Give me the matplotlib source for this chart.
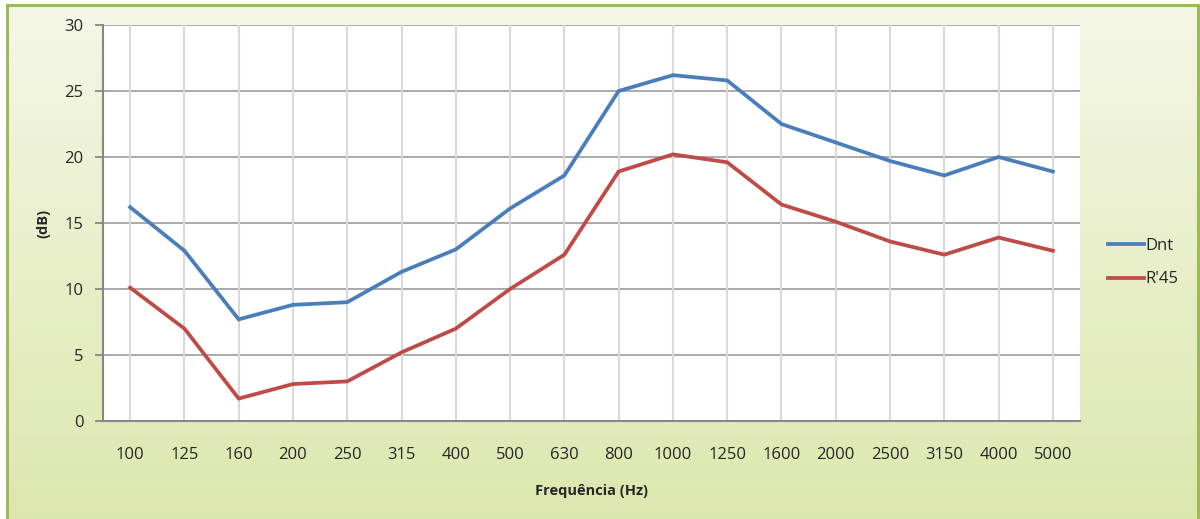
import numpy as np
import matplotlib
matplotlib.use("Agg")
import matplotlib.pyplot as plt
from matplotlib.patches import Rectangle
from matplotlib.colors import LinearSegmentedColormap

categories = ["100", "125", "160", "200", "250", "315", "400", "500", "630",
              "800", "1000", "1250", "1600", "2000", "2500", "3150", "4000", "5000"]
dnt = [16.2, 12.9, 7.7, 8.8, 9.0, 11.3, 13.0, 16.1, 18.6,
       25.0, 26.2, 25.8, 22.5, 21.1, 19.7, 18.6, 20.0, 18.9]
r45 = [10.1, 7.0, 1.7, 2.8, 3.0, 5.2, 7.0, 10.0, 12.6,
       18.9, 20.2, 19.6, 16.4, 15.1, 13.6, 12.6, 13.9, 12.9]
yticks = [0, 5, 10, 15, 20, 25, 30]

plt.rcParams['font.family'] = ['Open Sans', 'DejaVu Sans']

W, H = 1200, 519
fig = plt.figure(figsize=(W / 100, H / 100), dpi=100)
fig.patch.set_facecolor("white")

# gradient background frame (extends below the image bottom)
bg = fig.add_axes([7 / W, -10 / H, (1198 - 7) / W, (H + 10 - 5) / H])
bg.set_axis_off()
cmap = LinearSegmentedColormap.from_list("g", ["#f4f7e6", "#dce7ad"])
grad = np.linspace(0, 1, 256).reshape(-1, 1)
bg.imshow(grad, aspect="auto", cmap=cmap, extent=[0, 1, 0, 1], origin="upper")
bg.set_xlim(0, 1)
bg.set_ylim(0, 1)
bg.add_patch(Rectangle((0, 0), 1, 1.0, fill=False, edgecolor="#9bbb59",
                       linewidth=2.2, transform=bg.transAxes, clip_on=False))

ax = fig.add_axes([103 / W, (H - 421) / H, (1080 - 103) / W, (421 - 25) / H])
ax.set_facecolor("white")
x = np.arange(len(categories))
ax.plot(x, dnt, color="#4a7ebb", lw=2.7, label="Dnt", solid_joinstyle="miter", zorder=3)
ax.plot(x, r45, color="#be4b48", lw=2.7, label="R'45", solid_joinstyle="miter", zorder=3)

ax.set_xlim(-0.5, len(categories) - 0.5)
ax.set_ylim(0, 30)
ax.set_yticks(yticks)
ax.set_xticks(x)
ax.set_xticklabels(categories)
for v in yticks[1:]:
    ax.axhline(v, color="#a3a3a3", lw=1.3, zorder=1)
for xi in x:
    ax.axvline(xi, color="#d9d9d9", lw=1.5, zorder=1)

for s in ["top", "right"]:
    ax.spines[s].set_visible(False)
for s in ["left", "bottom"]:
    ax.spines[s].set_color("#878787")
    ax.spines[s].set_linewidth(1.5)
ax.tick_params(axis="y", direction="out", length=6, width=1.3, color="#878787",
               labelsize=12, labelcolor="#262626", pad=8)
ax.tick_params(axis="x", length=0, labelsize=12, labelcolor="#262626", pad=19)

ax.set_xlabel("Frequência (Hz)", fontsize=10.5, fontweight="bold", color="#262626", labelpad=15)
ax.set_ylabel("(dB)", fontsize=10.5, fontweight="bold", color="#262626", labelpad=10)

leg = ax.legend(loc="center left", bbox_to_anchor=(1.013, 0.40), frameon=False,
                fontsize=12, handlelength=2.2, handletextpad=0.05, labelspacing=1.05,
                labelcolor="#262626")

fig.savefig("out.png", dpi=100)
